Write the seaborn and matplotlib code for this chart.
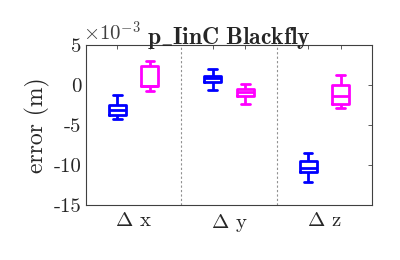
import numpy as np
import pandas as pd
import matplotlib
matplotlib.use('Agg')
import matplotlib.pyplot as plt
import seaborn as sns
from matplotlib.ticker import FuncFormatter

# five-number summaries (units of 1e-3 m)
axes_names = ['$\\Delta$ x', '$\\Delta$ y', '$\\Delta$ z']
groups = ['A', 'B']
a_stats = [[-4.2, -3.8, -3.1, -2.5, -1.25],
           [-0.63, 0.33, 0.83, 1.17, 2.0],
           [-12.2, -10.83, -10.4, -9.5, -8.46]]
b_stats = [[-0.7, -0.1, -0.1, 2.4, 3.04],
           [-2.38, -1.38, -0.92, -0.54, 0.125],
           [-2.9, -2.38, -1.38, 0.0, 1.25]]
colors = ['#0000ff', '#ff00ff']

rows = []
for i, name in enumerate(axes_names):
    for g, stats in zip(groups, [a_stats, b_stats]):
        for v in stats[i]:
            rows.append({'axis': name, 'group': g, 'err': v * 1e-3})
df = pd.DataFrame(rows)

sns.set_style('white')
plt.rcParams['font.family'] = ['cmr10', 'DejaVu Serif']
plt.rcParams['mathtext.fontset'] = 'cm'
plt.rcParams['axes.unicode_minus'] = False

fig = plt.figure(figsize=(4, 2.6), dpi=100)
ax = fig.add_axes([0.215, 0.212, 0.715, 0.615])

sns.boxplot(data=df, x='axis', y='err', hue='group', palette=colors,
            fill=False, width=0.68, gap=0.47, whis=np.inf, linewidth=2,
            legend=False, ax=ax)

for xv in [0.5, 1.5]:
    ax.axvline(xv, color='#909090', ls=(0, (2, 2)), lw=0.8, zorder=0)

ax.set_xlim(-0.5, 2.5)
ax.set_ylim(-15e-3, 5e-3)
ax.set_yticks(np.arange(-15, 6, 5) * 1e-3)
ax.yaxis.set_major_formatter(FuncFormatter(lambda v, p: '%d' % round(v * 1e3)))

box_pos = [-0.17, 0.17, 0.83, 1.17, 1.83, 2.17]
ax.set_xticks(box_pos)
ax.set_xticklabels([])
ax.set_xticks([0, 1, 2], minor=True)
ax.set_xticklabels(axes_names, minor=True, fontsize=15)
ax.tick_params(axis='x', which='minor', length=0, pad=5)
ax.tick_params(axis='both', which='major', direction='in', length=3,
               top=True, right=True, width=0.6, color='#404040', labelsize=15)
for s in ax.spines.values():
    s.set_color('#404040')
    s.set_linewidth(0.8)

ax.set_xlabel('')
ax.set_ylabel('error (m)', fontsize=17, labelpad=2)
ax.text(-0.01, 1.0, '$\\times10^{-3}$', transform=ax.transAxes, fontsize=15,
        color='#404040', ha='left', va='bottom')
ax.set_title('$\\mathbf{p\\_IinC\\ Blackfly}$', fontsize=17, pad=1)

fig.savefig('out.png', dpi=100)
